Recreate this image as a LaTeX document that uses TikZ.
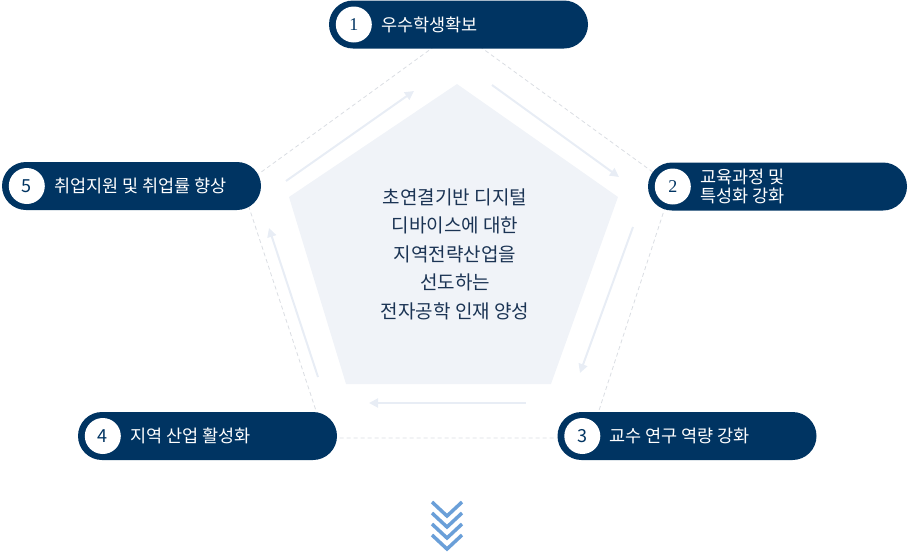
\documentclass[tikz,border=0pt]{standalone}
\usepackage{fontspec}
\setmainfont{Noto Sans CJK KR}
\newfontfamily\numserif{Liberation Serif}
\usetikzlibrary{arrows.meta}
\usetikzlibrary{shapes.misc}
\usetikzlibrary{positioning}

\definecolor{navy}{HTML}{003462}
\definecolor{paleblue}{HTML}{F0F3F8}
\definecolor{arrowgray}{HTML}{E8EDF5}
\definecolor{dashgray}{HTML}{DADDE2}
\definecolor{chevblue}{HTML}{6A9FD8}
\definecolor{inktext}{HTML}{1B3454}

\tikzset{
  pill/.style={rounded rectangle, fill=navy, minimum width=259pt,
               minimum height=48pt, inner sep=0pt},
  numdot/.style={circle, fill=white, minimum size=36pt, inner sep=0pt,
                 text=navy, font=\fontsize{18}{18}\selectfont},
  pilltext/.style={anchor=west, inner sep=0pt, text=white, align=left,
                   font=\fontsize{17.5}{19.5}\selectfont},
  flow/.style={draw=arrowgray, line width=2pt,
               -{Triangle[length=9pt,width=9pt]}},
  rim/.style={draw=dashgray, dash pattern=on 4pt off 3pt, line width=0.8pt},
  chev/.style={draw=chevblue, line width=3.5pt, miter limit=10},
}

\begin{document}
\begin{tikzpicture}[x=1pt,y=-1pt]
  \useasboundingbox (0,0) rectangle (908,552);

  % dashed outer ring
  \coordinate (v1) at (457,30);
  \coordinate (v2) at (672,186);
  \coordinate (v3) at (590,438);
  \coordinate (v4) at (325,438);
  \coordinate (v5) at (242,186);
  \draw[rim] (v1) -- (v2) -- (v3) -- (v4) -- (v5) -- cycle;

  % pale pentagon in the middle
  \coordinate (p1) at (457,84);
  \coordinate (p2) at (618,197);
  \coordinate (p3) at (551,384);
  \coordinate (p4) at (346,384);
  \coordinate (p5) at (289,197);
  \fill[paleblue] (p1) -- (p2) -- (p3) -- (p4) -- (p5) -- cycle;

  \node[text=inktext, align=center, inner sep=0pt,
        font=\fontsize{19}{28.5}\selectfont] (core) at (455,254)
    {초연결기반 디지털\\디바이스에 대한\\지역전략산업을\\선도하는\\전자공학 인재 양성};

  % arrows round the cycle
  \coordinate (a1s) at (286,181);  \coordinate (a1e) at (414,91);
  \coordinate (a2s) at (492,85);   \coordinate (a2e) at (619,177);
  \coordinate (a3s) at (633,227);  \coordinate (a3e) at (580,373);
  \coordinate (a4s) at (526,403);  \coordinate (a4e) at (369,403);
  \coordinate (a5s) at (318,377);  \coordinate (a5e) at (269,228);
  \draw[flow] (a1s) -- (a1e);
  \draw[flow] (a2s) -- (a2e);
  \draw[flow] (a3s) -- (a3e);
  \draw[flow] (a4s) -- (a4e);
  \draw[flow] (a5s) -- (a5e);

  % the five goals
  \node[pill] (b1) at (458.5,24.5) {};
  \node[numdot] (n1) at ([xshift=25pt]b1.west) {\numserif 1};
  \node[pilltext] (t1) at ([xshift=27pt]n1.center) {우수학생확보};

  \node[pill] (b2) at (777.5,186.5) {};
  \node[numdot] (n2) at ([xshift=25pt]b2.west) {\numserif 2};
  \node[pilltext] (t2) at ([xshift=27pt]n2.center) {교육과정 및\\특성화 강화};

  \node[pill] (b3) at (687,436) {};
  \node[numdot] (n3) at ([xshift=25pt]b3.west) {3};
  \node[pilltext] (t3) at ([xshift=27pt]n3.center) {교수 연구 역량 강화};

  \node[pill] (b4) at (207.5,436) {};
  \node[numdot] (n4) at ([xshift=25pt]b4.west) {4};
  \node[pilltext] (t4) at ([xshift=27pt]n4.center) {지역 산업 활성화};

  \node[pill] (b5) at (131.5,186) {};
  \node[numdot] (n5) at ([xshift=25pt]b5.west) {5};
  \node[pilltext] (t5) at ([xshift=27pt]n5.center) {취업지원 및 취업률 향상};

  % chevrons down
  \foreach \k in {0,...,3}
    \draw[chev] (432,502+11*\k) -- (447,516+11*\k) -- (462,502+11*\k);
\end{tikzpicture}
\end{document}
